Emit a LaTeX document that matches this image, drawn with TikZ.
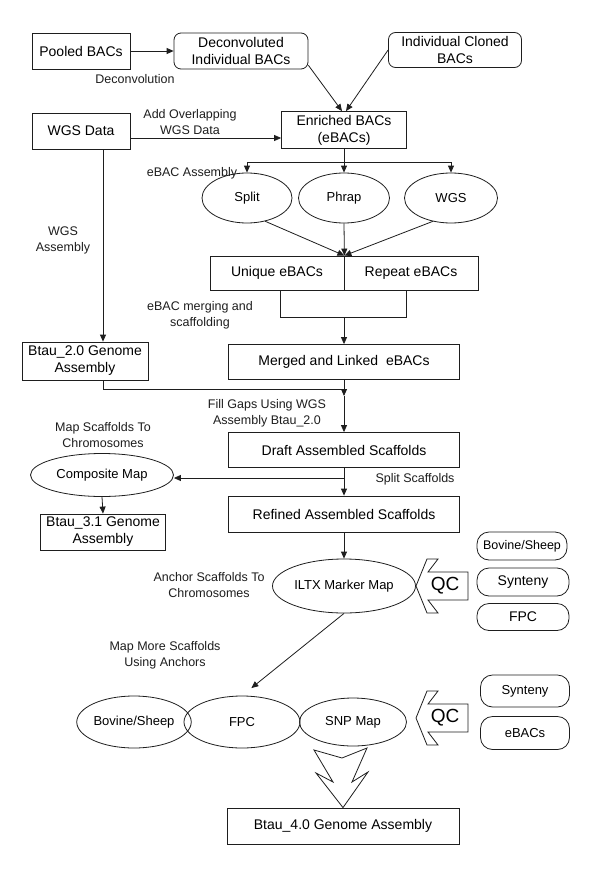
\documentclass[tikz,border=0pt]{standalone}
\usepackage{fontspec}
\setmainfont{Liberation Sans}
\usetikzlibrary{arrows.meta,positioning,calc,shapes.geometric}
\definecolor{ink}{RGB}{30,30,30}
\tikzset{
  blk/.style={draw=ink,line width=0.8pt,inner sep=2pt,align=center,
    font=\fontsize{14}{17}\selectfont},
  rblk/.style={blk,rounded corners=7pt},
  pill/.style={draw=ink,line width=0.8pt,rounded corners=12pt,inner sep=1pt,
    align=center,font=\fontsize{13}{15}\selectfont},
  oval/.style={draw=ink,ellipse,line width=0.8pt,inner sep=0pt,align=center,
    font=\fontsize{13}{15}\selectfont},
  lbl/.style={align=center,font=\fontsize{12.5}{16}\selectfont,text=ink},
  arr/.style={-{Triangle[length=7pt,width=6pt]},line width=0.8pt,ink},
  ln/.style={line width=0.8pt,ink},
  qcarrow/.style={draw=ink,line width=0.8pt,fill=white,line join=miter},
}

\begin{document}
\begin{tikzpicture}[x=1pt,y=-1pt]
\useasboundingbox[fill=white] (0,0) rectangle (600,872);
% top row
\node[blk,minimum width=98pt,minimum height=36pt] (pooled) at (81,51) {Pooled BACs};
\node[rblk,minimum width=134pt,minimum height=36pt] (deconv) at (241,51) {Deconvoluted\\Individual BACs};
\node[rblk,minimum width=133pt,minimum height=35pt] (cloned) at (455,50) {Individual Cloned\\BACs};
\node[blk,minimum width=98pt,minimum height=36pt] (wgsdata) at (81,131) {WGS Data};
\node[blk,minimum width=125pt,minimum height=37pt] (enriched) at (344,130) {Enriched BACs\\(eBACs)};
\draw[arr] (pooled) -- (deconv);
\draw[arr] (deconv.-12) -- ($(enriched.north)+(-2,0)$);
\draw[arr] (cloned.west) -- ($(enriched.north)+(2,0)$);
\draw[arr] (wgsdata.east|-0,138) -- (enriched.west|-0,138);
\node[lbl] at (135,79) {Deconvolution};
\node[lbl] at (190,122) {Add Overlapping\\WGS Data};
% eBAC assembly
\foreach \n/\x/\w/\t in {split/247/90/Split,phrap/344/91/Phrap,wgs/451/93/WGS}{
  \node[oval,minimum width=\w pt,minimum height=50pt] (\n) at (\x,198) {\t};
  \draw[arr] (\x,162) -- (\n.north);}
\draw[ln] (enriched.south) -- (344,162);
\draw[ln] (247,162) -- (451,162);
\node[lbl] at (192,173) {eBAC Assembly};
\node[blk,minimum width=134pt,minimum height=34pt] (uniq) at (277,273) {Unique eBACs};
\node[blk,minimum width=134pt,minimum height=34pt] (rep) at (411,273) {Repeat eBACs};
\draw[arr] (split.-52) -- (uniq.north east);
\draw[arr] (phrap.south) -- (uniq.north east);
\draw[arr] (wgs.-128) -- (uniq.north east);
% merging
\node[blk,minimum width=231pt,minimum height=35pt] (merged) at (344,362) {Merged and Linked~~eBACs};
\draw[ln] (280,290) -- (280,317) -- (406,317) -- (406,290);
\coordinate (join) at (344,317);
\draw[arr] (join) -- (merged.north);
\node[lbl] at (200,315) {eBAC merging and\\scaffolding};
% WGS assembly branch
\node[blk,minimum width=126pt,minimum height=38pt] (btau2) at (85,361) {Btau\_2.0 Genome\\Assembly};
\draw[arr] (wgsdata.south-|103,0) -- (btau2.north-|103,0);
\node[lbl] at (63,240) {WGS\\Assembly};
\node[blk,minimum width=231pt,minimum height=35pt] (draft) at (344,450) {Draft Assembled Scaffolds};
\coordinate (fill) at (344,396);
\draw[ln] (btau2.south-|103,0) -- (103,389) -- (344,389);
\draw[arr] (merged.south) -- (fill);
\draw[arr] (fill) -- (draft.north);
\node[lbl] at (267,413) {Fill Gaps Using WGS\\Assembly Btau\_2.0};
% composite map
\node[oval,minimum width=143pt,minimum height=43pt] (composite) at (102,475) {Composite Map};
\node[blk,minimum width=125pt,minimum height=36pt] (btau31) at (103,532) {Btau\_3.1 Genome\\Assembly};
\node[blk,minimum width=231pt,minimum height=36pt] (refined) at (344,514) {Refined Assembled Scaffolds};
\coordinate (splitpt) at (344,478);
\draw[arr] (draft.south) -- (refined.north);
\draw[arr] (splitpt) -- (composite.east|-splitpt);
\draw[arr] (composite.south) -- (btau31.north);
\node[lbl] at (103,435) {Map Scaffolds To\\Chromosomes};
\node[lbl] at (415,479) {Split Scaffolds};
% ILTX
\node[oval,minimum width=143pt,minimum height=54pt] (iltx) at (344,586) {ILTX Marker Map};
\draw[arr] (refined.south) -- (iltx.north);
\node[lbl] at (209,585) {Anchor Scaffolds To\\Chromosomes};
\node[pill,minimum width=90pt,minimum height=28pt,font=\fontsize{12.5}{15}\selectfont] (bov1) at (522,546) {Bovine/Sheep};
\node[pill,minimum width=92pt,minimum height=28pt,font=\fontsize{14}{15}\selectfont] (syn1) at (523,582) {Synteny};
\node[pill,minimum width=92pt,minimum height=27pt,font=\fontsize{14}{15}\selectfont] (fpc1) at (523,617) {FPC};
% second round
\node[oval,minimum width=102pt,minimum height=52pt] (bov2) at (134,722) {Bovine/Sheep};
\node[oval,minimum width=116pt,minimum height=52pt] (fpc2) at (242,722) {FPC};
\node[oval,minimum width=107pt,minimum height=48pt] (snp) at (353,722) {SNP Map};
\draw[arr,shorten >=12pt] (iltx.south) -- (fpc2.north);
\node[lbl] at (165,655) {Map More Scaffolds\\Using Anchors};
\node[pill,minimum width=89pt,minimum height=32pt] (syn2) at (525,691) {Synteny};
\node[pill,minimum width=89pt,minimum height=33pt] (ebacs) at (525,733) {eBACs};
% QC arrows
\foreach \y/\n in {586/qcA,718/qcB}{
  \begin{scope}[shift={(416,\y)}]
    \draw[qcarrow] (0,0) -- (11,-27) -- (22,-27) -- (12,-14) -- (52,-14)
      -- (52,14) -- (12,14) -- (22,27) -- (11,27) -- cycle;
    \node[font=\fontsize{19}{20}\selectfont] (\n) at (29,0) {QC};
  \end{scope}}
% final
\node[blk,minimum width=232pt,minimum height=36pt] (btau4) at (343,826) {Btau\_4.0 Genome Assembly};
\draw[qcarrow] (314,750) -- (342,758) -- (367,748) -- (352,782) -- (368,772)
  -- (btau4.north) -- (316,773) -- (333,782) -- cycle;
\end{tikzpicture}
\end{document}
